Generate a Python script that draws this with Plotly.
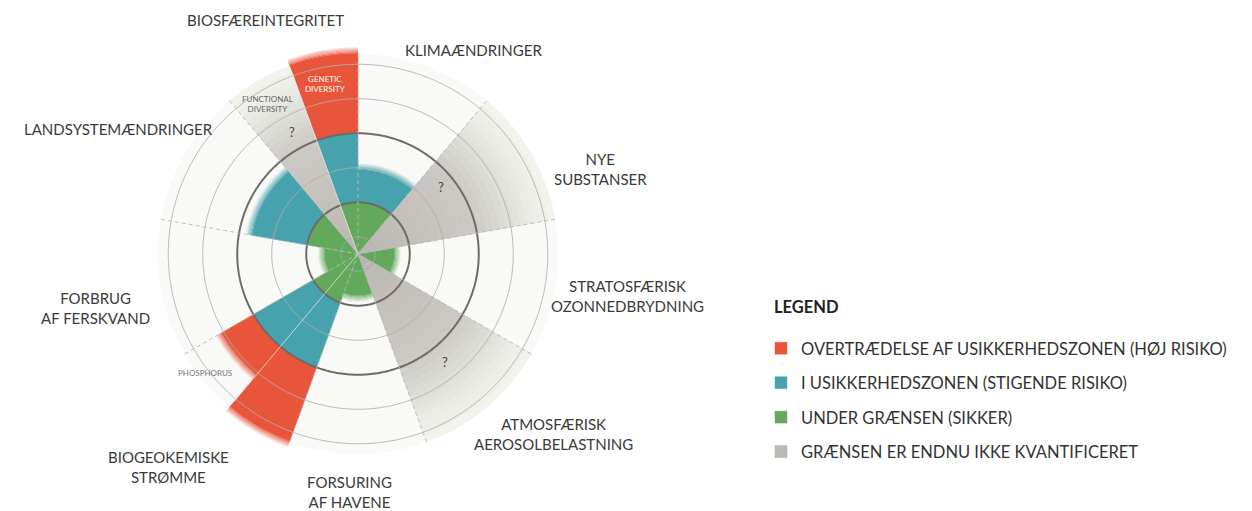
import plotly.graph_objects as go
import numpy as np

# ---------------- DATA ----------------
segments = ["Genetisk diversitet", "Funktionel diversitet", "Klimaændringer", "Nye substanser",
            "Stratosfærisk ozonnedbrydning", "Atmosfærisk aerosolbelastning", "Forsuring af havene",
            "Kvælstof", "Fosfor", "Forbrug af ferskvand", "Landsystemændringer"]
segment_angle = [350, 330, 20, 60, 100, 140, 180, 210, 230, 260, 300]
segment_span = [20, 20, 40, 40, 40, 40, 40, 20, 20, 40, 40]
# control variable level, scaled so the safe boundary = 1.5 and end of uncertainty zone = 3.5
control_level = [5.9, None, 2.52, None, 1.13, None, 1.28, 5.85, 4.65, 1.05, 3.2]
safe_limit = 1.5
uncertainty_limit = 3.5
unquantified_extent = 5.8
ring_levels = [0.5, 1.5, 2.5, 3.5, 4.5, 5.5]
boundary_rings = [1.5, 3.5]
sector_edges = [0, 40, 80, 120, 160, 200, 240, 280, 320]
sub_edges = [340, 220]

legend_names = ["OVERTRÆDELSE AF USIKKERHEDSZONEN (HØJ RISIKO)",
                "I USIKKERHEDSZONEN (STIGENDE RISIKO)",
                "UNDER GRÆNSEN (SIKKER)",
                "GRÆNSEN ER ENDNU IKKE KVANTIFICERET"]

RED = "#E8553A"
TEAL = "#46A3AD"
GREEN = "#62A95C"
R_MAX = 6.0

# page offset (browser body margin) compensation
OFF = 8
W, H = 1252 - OFF, 511 - OFF

def px(x):
    return (x - OFF) / W

def py(y):
    return 1 - (y - OFF) / H

# ---------------- BUILD ----------------
bands = {"red": [], "teal": [], "green": []}
fades = []
gray = []

def rgba(hexc, a):
    h = hexc.lstrip("#")
    return "rgba(%d,%d,%d,%.3f)" % (int(h[0:2], 16), int(h[2:4], 16), int(h[4:6], 16), a)

# gray gradient stops (radius, rgb)
g_stops_r = [0.0, 3.5, 5.0, unquantified_extent]
g_stops_c = [(186, 181, 176), (205, 202, 197), (233, 234, 228), (243, 245, 239)]

def gray_at(m):
    c = [np.interp(m, g_stops_r, [s[k] for s in g_stops_c]) for k in range(3)]
    return "rgb(%d,%d,%d)" % tuple(int(v) for v in c)

FADE = 0.2
NF = 6
for ang, span, v in zip(segment_angle, segment_span, control_level):
    if v is None:
        steps = np.linspace(0, unquantified_extent, 30)
        for a0, a1 in zip(steps[:-1], steps[1:]):
            gray.append((ang, span, a0, a1 - a0, gray_at((a0 + a1) / 2)))
        continue
    end = v - FADE * 0.4
    g_end = min(end, safe_limit) if v > safe_limit else end
    bands["green"].append((ang, span, 0, g_end))
    last = GREEN
    if v > safe_limit:
        t_end = min(end, uncertainty_limit) if v > uncertainty_limit else end
        bands["teal"].append((ang, span, safe_limit, t_end - safe_limit))
        last = TEAL
    if v > uncertainty_limit:
        bands["red"].append((ang, span, uncertainty_limit, end - uncertainty_limit))
        last = RED
    fs = np.linspace(end, end + FADE, NF + 1)
    for i, (a0, a1) in enumerate(zip(fs[:-1], fs[1:])):
        fades.append((ang, span, a0, a1 - a0, rgba(last, 0.9 * (1 - (i + 0.5) / NF))))

fig = go.Figure()

# pale disc
fig.add_trace(go.Barpolar(r=[unquantified_extent], theta=[0], width=[360], base=[0],
                          marker=dict(color="#F9FAF7", line=dict(width=0)),
                          showlegend=False, hoverinfo="skip"))

col = {"red": RED, "teal": TEAL, "green": GREEN}
for key, name, rank in [("red", legend_names[0], 1), ("teal", legend_names[1], 2), ("green", legend_names[2], 3)]:
    b = bands[key]
    fig.add_trace(go.Barpolar(theta=[x[0] for x in b], width=[x[1] for x in b],
                              base=[x[2] for x in b], r=[x[3] for x in b],
                              marker=dict(color=col[key], line=dict(width=0.4, color=col[key])),
                              name=name, legendrank=rank, legendgroup=key, hoverinfo="skip"))

gcols = ["#BCB8B4"] + [x[4] for x in gray[1:]]
fig.add_trace(go.Barpolar(theta=[x[0] for x in gray], width=[x[1] for x in gray],
                          base=[x[2] for x in gray], r=[x[3] for x in gray],
                          marker=dict(color=gcols, line=dict(width=0.6, color=gcols)),
                          name=legend_names[3], legendrank=4, legendgroup="gray", hoverinfo="skip"))

fig.add_trace(go.Barpolar(theta=[x[0] for x in fades], width=[x[1] for x in fades],
                          base=[x[2] for x in fades], r=[x[3] for x in fades],
                          marker=dict(color=[x[4] for x in fades], line=dict(width=0)),
                          showlegend=False, hoverinfo="skip"))

thetas = np.linspace(0, 360, 361)
for rv in ring_levels:
    dark = rv in boundary_rings
    fig.add_trace(go.Scatterpolar(r=[rv] * len(thetas), theta=thetas, mode="lines",
                                  line=dict(color="#6F6B69" if dark else "rgba(175,175,172,0.85)",
                                            width=2 if dark else 1),
                                  showlegend=False, hoverinfo="skip"))
for th in sector_edges:
    fig.add_trace(go.Scatterpolar(r=[0, 5.85], theta=[th, th], mode="lines",
                                  line=dict(color="rgba(185,185,182,0.9)", width=1, dash="4px,3px"),
                                  showlegend=False, hoverinfo="skip"))
for th in sub_edges:
    fig.add_trace(go.Scatterpolar(r=[0, 5.6], theta=[th, th], mode="lines",
                                  line=dict(color="rgba(230,230,228,0.7)", width=1),
                                  showlegend=False, hoverinfo="skip"))

cx, cy, rad = 358, 254, 34.5 * R_MAX
fig.update_layout(
    width=W, height=H, margin=dict(l=0, r=0, t=0, b=0),
    paper_bgcolor="white", plot_bgcolor="white",
    polar=dict(
        domain=dict(x=[px(cx - rad), px(cx + rad)], y=[py(cy + rad), py(cy - rad)]),
        bgcolor="rgba(0,0,0,0)",
        radialaxis=dict(range=[0, R_MAX], showgrid=False, showticklabels=False, showline=False, ticks=""),
        angularaxis=dict(rotation=90, direction="clockwise", showgrid=False, showticklabels=False,
                         showline=False, ticks=""),
        barmode="overlay",
    ),
    legend=dict(x=px(761), y=py(331), xanchor="left", yanchor="top",
                font=dict(size=16.5, color="#333", family="Lato"),
                traceorder="grouped", tracegroupgap=10, bgcolor="rgba(0,0,0,0)"),
    font=dict(family="Lato", color="#3a3a3a"),
)

fig.add_annotation(text="<b>LEGEND</b>", x=px(772), y=py(307), xref="paper", yref="paper",
                   xanchor="left", yanchor="middle", showarrow=False,
                   font=dict(size=16.5, color="#222", family="Lato"))

labels = [
    ("BIOSFÆREINTEGRITET", 265, 20),
    ("KLIMAÆNDRINGER", 474, 50),
    ("NYE<br>SUBSTANSER", 600, 169),
    ("STRATOSFÆRISK<br>OZONNEDBRYDNING", 627, 296),
    ("ATMOSFÆRISK<br>AEROSOLBELASTNING", 553, 434),
    ("FORSURING<br>AF HAVENE", 350, 492),
    ("BIOGEOKEMISKE<br>STRØMME", 168, 467),
    ("FORBRUG<br>AF FERSKVAND", 95, 308),
    ("LANDSYSTEMÆNDRINGER", 118, 129),
]
for txt, x, y in labels:
    fig.add_annotation(text=txt, x=px(x), y=py(y), xref="paper", yref="paper", showarrow=False,
                       xanchor="center", yanchor="middle",
                       font=dict(size=15, color="#3a3a3a", family="Lato"), align="center")

small = [
    ("GENETIC<br>DIVERSITY", 325, 84, "white"),
    ("FUNCTIONAL<br>DIVERSITY", 267, 104, "#666"),
    ("PHOSPHORUS", 205, 373, "#777"),
]
for txt, x, y, c in small:
    fig.add_annotation(text=txt, x=px(x), y=py(y), xref="paper", yref="paper", showarrow=False,
                       xanchor="center", yanchor="middle",
                       font=dict(size=8, color=c, family="Lato"), align="center")
for x, y in [(292, 132), (445, 362), (441, 187)]:
    fig.add_annotation(text="?", x=px(x), y=py(y), xref="paper", yref="paper", showarrow=False,
                       xanchor="center", yanchor="middle",
                       font=dict(size=13, color="#444", family="Lato"))

fig.write_html("out.html")
